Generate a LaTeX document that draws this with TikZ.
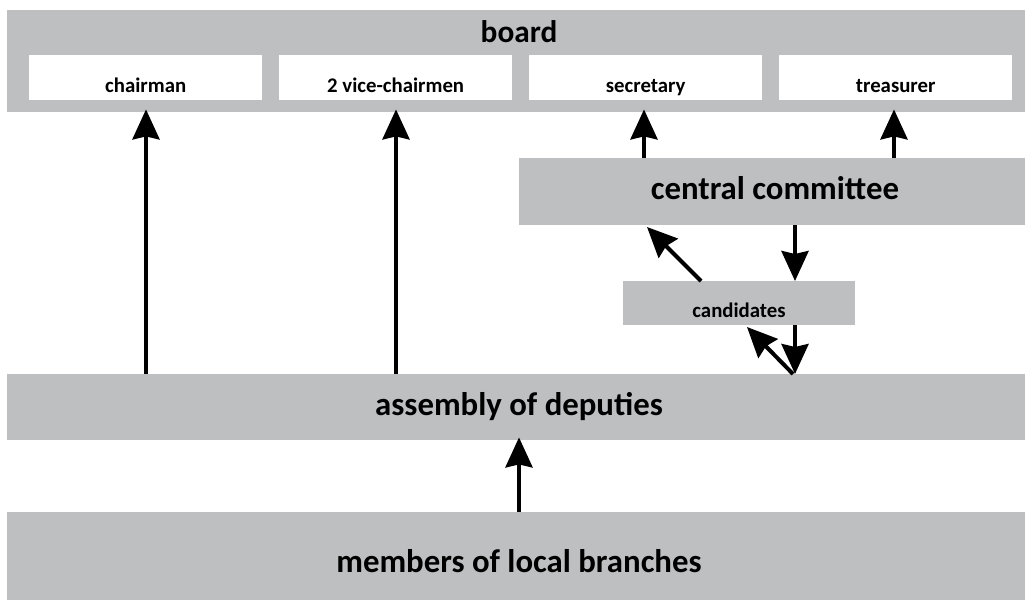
\documentclass[tikz,border=0pt]{standalone}
\usepackage{fontspec}
\setmainfont{Carlito}
\usetikzlibrary{arrows.meta}
\definecolor{boxgray}{HTML}{BEBFC1}
\tikzset{
  graybox/.style={fill=boxgray, draw=none, inner sep=0pt, anchor=north west},
  whitebox/.style={fill=white, draw=none, inner sep=0pt, anchor=north west},
  bigtext/.style={font=\fontsize{32.8}{36}\selectfont\bfseries, anchor=base, inner sep=0pt},
  smalltext/.style={font=\fontsize{20.8}{24}\selectfont\bfseries, anchor=base, inner sep=0pt},
  arr/.style={line width=4pt, -{Stealth[length=30pt,width=27pt,inset=3pt]}},
}
\begin{document}
\begin{tikzpicture}[x=1pt,y=-1pt]
\useasboundingbox (0,0) rectangle (1025,600);
% board
\node[graybox, minimum width=1018pt, minimum height=102pt] (board) at (7,10) {};
\node[bigtext, font=\fontsize{31.3}{34}\selectfont\bfseries] (boardlbl) at (519,42) {board};
\node[whitebox, minimum width=233pt, minimum height=45pt] (chair) at (29,55) {};
\node[whitebox, minimum width=233pt, minimum height=45pt] (vice) at (279,55) {};
\node[whitebox, minimum width=233pt, minimum height=45pt] (secr) at (529,55) {};
\node[whitebox, minimum width=233pt, minimum height=45pt] (treas) at (779,55) {};
\node[smalltext] (chairlbl) at (chair.center |- 0,92) {chairman};
\node[smalltext] (vicelbl) at (vice.center |- 0,92) {2 vice-chairmen};
\node[smalltext] (secrlbl) at (secr.center |- 0,92) {secretary};
\node[smalltext] (treaslbl) at (treas.center |- 0,92) {treasurer};
% central committee
\node[graybox, minimum width=506pt, minimum height=67pt] (cc) at (519,158) {};
\node[bigtext] (cclbl) at (775,199) {central committee};
% candidates
\node[graybox, minimum width=232pt, minimum height=44pt] (cand) at (623,281) {};
\node[smalltext] (candlbl) at (739,317) {candidates};
% assembly
\node[graybox, minimum width=1018pt, minimum height=66pt] (asm) at (7,374) {};
\node[bigtext] (asmlbl) at (519,415) {assembly of deputies};
% members
\node[graybox, minimum width=1018pt, minimum height=88pt] (mem) at (7,512) {};
\node[bigtext] (memlbl) at (519,572) {members of local branches};
% arrows
\coordinate (a1) at (146,374);
\coordinate (a2) at (396,374);
\draw[arr] (a1) -- ([yshift=3pt]a1 |- board.south);
\draw[arr] (a2) -- ([yshift=3pt]a2 |- board.south);
\coordinate (c1) at (644,158);
\coordinate (c2) at (894,158);
\draw[arr] (c1) -- ([yshift=3pt]c1 |- board.south);
\draw[arr] (c2) -- ([yshift=3pt]c2 |- board.south);
\coordinate (d1) at (795,225);
\draw[arr] (d1) -- (d1 |- cand.north);
\coordinate (u1) at (701,281);
\coordinate (u1t) at (647,227);
\draw[arr] (u1) -- (u1t);
\coordinate (d2) at (795,325);
\draw[arr] (d2) -- (d2 |- asm.north);
\coordinate (u2) at (793,374);
\coordinate (u2t) at (747,327);
\draw[arr] (u2) -- (u2t);
\coordinate (m1) at (519,512);
\draw[arr] (m1) -- ([yshift=3pt]m1 |- asm.south);
\end{tikzpicture}
\end{document}
